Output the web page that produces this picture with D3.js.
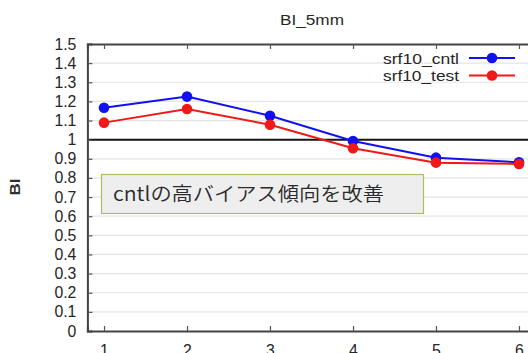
<!DOCTYPE html>
<html>
<head>
<meta charset="utf-8">
<script src="https://cdn.jsdelivr.net/npm/d3@7"></script>
<style>
  html, body { margin: 0; padding: 0; background: #fff; overflow: hidden; }
  svg { display: block; font-family: "Liberation Sans", Arial, Helvetica, sans-serif; }
</style>
</head>
<body>
<svg id="chart" width="528" height="353"></svg>
<script>
// BI score by threshold index, two experiment runs
const xValues = [1, 2, 3, 4, 5, 6];
const cntlValues = [1.167, 1.225, 1.125, 0.993, 0.906, 0.882];
const testValues = [1.089, 1.160, 1.078, 0.955, 0.880, 0.873];
const yTicks = [0, 0.1, 0.2, 0.3, 0.4, 0.5, 0.6, 0.7, 0.8, 0.9, 1, 1.1, 1.2, 1.3, 1.4, 1.5];
const seriesNames = ["srf10_cntl", "srf10_test"];
const seriesColors = ["#1010f0", "#f01818"];
const titleText = "BI_5mm";
const yLabel = "BI";
const noteText = "cntlの高バイアス傾向を改善";

const svg = d3.select("#chart");
const plotLeft = 87.4, plotRight = 535.6, plotTop = 44, plotBottom = 331;

const x = d3.scaleLinear().domain([0.8, 6.2]).range([plotLeft, plotRight]);
const y = d3.scaleLinear().domain([0, 1.5]).range([plotBottom, plotTop]);

// horizontal grid
svg.append("g")
  .selectAll("line")
  .data(yTicks.filter(v => v > 0 && v < 1.5 && v !== 1))
  .join("line")
  .attr("x1", plotLeft).attr("x2", plotRight)
  .attr("y1", d => y(d)).attr("y2", d => y(d))
  .attr("stroke", "#e4e4e4").attr("stroke-width", 1.2);

// reference line at BI = 1
svg.append("line")
  .attr("x1", plotLeft).attr("x2", plotRight)
  .attr("y1", y(1)).attr("y2", y(1))
  .attr("stroke", "#151515").attr("stroke-width", 2);

// left axis: labels outside, ticks pointing inward
const yAxis = svg.append("g")
  .attr("transform", `translate(${plotLeft},0)`)
  .call(d3.axisLeft(y).tickValues(yTicks).tickSize(-5).tickPadding(11)
        .tickFormat(d3.format("~g")));
yAxis.select(".domain").attr("stroke", "#444").attr("stroke-width", 2);
yAxis.selectAll(".tick line").attr("stroke", "#555").attr("stroke-width", 1.2);
yAxis.selectAll("text").attr("font-size", 15.8).attr("fill", "#262626");

// bottom axis
const xAxis = svg.append("g")
  .attr("transform", `translate(0,${plotBottom})`)
  .call(d3.axisBottom(x).tickValues(xValues).tickSize(-5).tickPadding(14)
        .tickFormat(d3.format("d")));
xAxis.select(".domain").attr("stroke", "#444").attr("stroke-width", 2);
xAxis.selectAll(".tick line").attr("stroke", "#555").attr("stroke-width", 1.2);
xAxis.selectAll("text").attr("font-size", 15.8).attr("fill", "#262626");

// top frame with inward ticks
const xTop = svg.append("g")
  .attr("transform", `translate(0,${plotTop})`)
  .call(d3.axisTop(x).tickValues(xValues).tickSize(-5).tickFormat(""));
xTop.select(".domain").attr("stroke", "#444").attr("stroke-width", 2);
xTop.selectAll(".tick line").attr("stroke", "#555").attr("stroke-width", 1.2);

// series
const series = [cntlValues, testValues];
const line = d3.line().x((d, i) => x(xValues[i])).y(d => y(d));
series.forEach((vals, s) => {
  svg.append("path")
    .attr("d", line(vals))
    .attr("fill", "none")
    .attr("stroke", seriesColors[s])
    .attr("stroke-width", 2);
  svg.append("g").selectAll("circle")
    .data(vals)
    .join("circle")
    .attr("cx", (d, i) => x(xValues[i]))
    .attr("cy", d => y(d))
    .attr("r", 5.3)
    .attr("fill", seriesColors[s]);
});

// legend
const legend = svg.append("g");
seriesNames.forEach((name, i) => {
  const cy = 58 + i * 17.5;
  legend.append("text")
    .attr("x", 459).attr("y", cy + 5.5)
    .attr("text-anchor", "end")
    .attr("font-size", 15.5)
    .attr("fill", "#262626")
    .attr("textLength", 76).attr("lengthAdjust", "spacingAndGlyphs")
    .text(name);
  legend.append("line")
    .attr("x1", 469).attr("x2", 515)
    .attr("y1", cy).attr("y2", cy)
    .attr("stroke", seriesColors[i]).attr("stroke-width", 2);
  legend.append("circle")
    .attr("cx", 492).attr("cy", cy).attr("r", 5.3)
    .attr("fill", seriesColors[i]);
});

// title
svg.append("text")
  .attr("x", 312).attr("y", 25)
  .attr("text-anchor", "middle")
  .attr("font-size", 15)
  .attr("fill", "#262626")
  .attr("textLength", 64).attr("lengthAdjust", "spacingAndGlyphs")
  .text(titleText);

// y-axis title
svg.append("text")
  .attr("transform", "translate(19.5,187) rotate(-90)")
  .attr("text-anchor", "middle")
  .attr("font-size", 14.5)
  .attr("font-weight", "bold")
  .attr("fill", "#303030")
  .attr("textLength", 17).attr("lengthAdjust", "spacingAndGlyphs")
  .text(yLabel);

// annotation box
svg.append("rect")
  .attr("x", 101.5).attr("y", 174.5)
  .attr("width", 322).attr("height", 39)
  .attr("fill", "#eeeeee")
  .attr("stroke", "#a9c062").attr("stroke-width", 1.2);
svg.append("text")
  .attr("x", 113).attr("y", 201)
  .attr("font-family", "'Noto Sans CJK JP', 'Liberation Sans', sans-serif")
  .attr("font-size", 19.5)
  .attr("font-weight", 350)
  .attr("fill", "#2a2a2a")
  .attr("textLength", 271).attr("lengthAdjust", "spacingAndGlyphs")
  .text(noteText);
</script>
</body>
</html>
